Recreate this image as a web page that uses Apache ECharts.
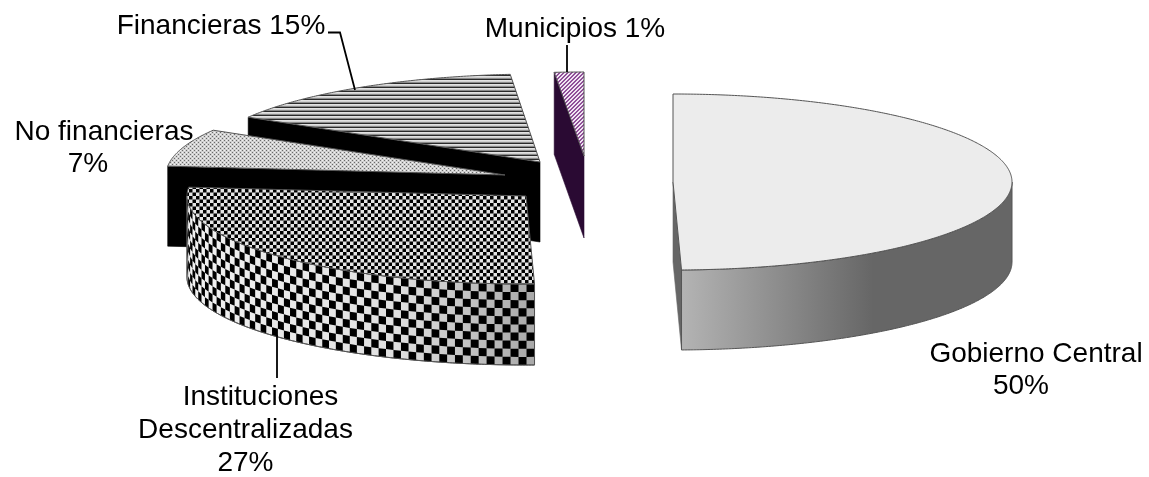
<!DOCTYPE html>
<html><head><meta charset="utf-8">
<style>html,body{margin:0;padding:0;background:#fff}#c{width:1149px;height:477px}</style>
<script src="https://cdn.jsdelivr.net/npm/echarts@6/dist/echarts.min.js"></script>
</head><body><div id="c"></div>
<script>
const categories = ['Gobierno Central', 'Instituciones Descentralizadas', 'No financieras', 'Financieras', 'Municipios'];
const shares = [49.6, 27.0, 6.9, 15.1, 1.4];
const nameLines = [['Gobierno Central'], ['Instituciones', 'Descentralizadas'], ['No financieras'], ['Financieras'], ['Municipios']];

// exploded slice geometry (pie centre of each slice, ellipse radii, thickness), and draw order
const RX = 339, RY = 88, DEPTH = 80;
const sliceLayout = [
  { cx: 673, cy: 182, ry: RY, depth: DEPTH, z: 5 },
  { cx: 526, cy: 196, ry: RY, depth: 81, z: 4 },
  { cx: 505, cy: 175, ry: RY, depth: DEPTH, z: 3 },
  { cx: 540, cy: 162, ry: RY, depth: DEPTH, z: 2 },
  { cx: 584, cy: 156, ry: 84, depth: 82, z: 1 }
];
// per-line centre x and baseline y; the percentage follows the name, on its own line or not
const labelLayout = [
  { nameAt: [[1036, 362]], pctAt: [1021, 394] },
  { nameAt: [[260.5, 405], [245.5, 438]], pctAt: [245.5, 471] },
  { nameAt: [[104, 140]], pctAt: [88, 172] },
  { nameAt: [[221, 34]], pctInline: true },
  { nameAt: [[575, 37]], pctInline: true }
];
const leaders = [
  null,
  [[277, 335], [277, 378]],
  null,
  [[328, 32.5], [340, 32.5], [355, 90]],
  [[567, 72], [567, 45]]
];

function tile(w, h, paint) {
  const c = document.createElement('canvas');
  c.width = w; c.height = h;
  paint(c.getContext('2d'));
  return { image: c, repeat: 'repeat' };
}
const fineChecker = tile(7, 7, g => {
  g.fillStyle = '#e4e4e4'; g.fillRect(0, 0, 7, 7);
  g.fillStyle = '#000'; g.fillRect(0, 0, 3.5, 3.5); g.fillRect(3.5, 3.5, 3.5, 3.5);
});
const dots = tile(4, 4, g => {
  g.fillStyle = '#d0d0d0'; g.fillRect(0, 0, 4, 4);
  g.fillStyle = '#6a6a6a'; g.fillRect(0, 0, 1, 1); g.fillRect(2, 2, 1, 1);
  g.fillStyle = '#f2f2f2'; g.fillRect(2, 0, 1, 1); g.fillRect(0, 2, 1, 1);
});
const stripes = tile(2, 4, g => {
  g.fillStyle = '#e2e2e2'; g.fillRect(0, 0, 2, 1);
  g.fillStyle = '#cfcfcf'; g.fillRect(0, 1, 2, 1);
  g.fillStyle = '#8a8a8a'; g.fillRect(0, 2, 2, 1);
  g.fillStyle = '#2a2a2a'; g.fillRect(0, 3, 2, 1);
});
const diagonal = tile(4, 4, g => {
  g.fillStyle = '#f0e4f2'; g.fillRect(0, 0, 4, 4);
  g.fillStyle = '#8f4f98';
  for (let i = 0; i < 4; i++) { g.fillRect((3 - i + 4) % 4, i, 2, 1); if ((3 - i + 1) >= 4) g.fillRect(0, i, 1, 1); }
});

const sliceStyle = [
  { top: '#ececec', cut: '#666666', wall: { type: 'linear', x: 0, y: 0, x2: 1, y2: 0, colorStops: [
      { offset: 0, color: '#b4b4b4' }, { offset: 0.58, color: '#666666' }, { offset: 1, color: '#666666' }] } },
  { top: fineChecker, cut: '#000', wall: { type: 'linear', x: 0, y: 0, x2: 1, y2: 0, colorStops: [
      { offset: 0, color: '#f2f2f2' }, { offset: 0.6, color: '#e0e0e0' }, { offset: 1, color: '#a8a8a8' }] }, checker: true },
  { top: dots, cut: '#000', wall: '#000' },
  { top: stripes, cut: '#000', wall: '#000' },
  { top: diagonal, cut: '#2a0a33', wall: '#2a0a33' }
];

const total = shares.reduce((a, b) => a + b, 0);
const rad = d => d * Math.PI / 180;

function renderItem(params, api) {
  const i = params.dataIndex;
  let startShare = 0;
  for (let k = 0; k < i; k++) startShare += shares[k];
  const a0 = startShare / total * 360;
  const a1 = (startShare + api.value(0)) / total * 360;
  const L = sliceLayout[i], S = sliceStyle[i];
  const pt = (deg, dz) => [L.cx + RX * Math.sin(rad(deg)), L.cy - L.ry * Math.cos(rad(deg)) + (dz || 0)];
  const arc = (from, to, dz) => {
    const out = [], n = Math.max(2, Math.ceil(Math.abs(to - from) * 2));
    for (let k = 0; k <= n; k++) out.push(pt(from + (to - from) * k / n, dz));
    return out;
  };
  const edge = { stroke: '#555', lineWidth: 1 };
  const kids = [];
  const poly = (points, fill, st) => kids.push({
    type: 'polygon', z2: L.z, shape: { points },
    style: Object.assign({ fill }, st || edge)
  });

  // visible cut faces
  const cut = deg => poly([[L.cx, L.cy], pt(deg), pt(deg, L.depth), [L.cx, L.cy + L.depth]], S.cut,
    { stroke: S.cut, lineWidth: 0.6 });
  if (Math.sin(rad(a0)) < -1e-6) cut(a0);
  if (Math.sin(rad(a1)) > 1e-6) cut(a1);

  // outer wall (front-facing part of the rim)
  const w0 = Math.max(a0, 90), w1 = Math.min(a1, 270);
  if (w1 > w0) {
    poly(arc(w0, w1, 0).concat(arc(w1, w0, L.depth)), S.wall);
    if (S.checker) {
      const rows = 10, baseW = 8, cellH = L.depth / rows;
      let d0 = w0, c = 0;
      while (d0 < w1) {
        const slant = Math.abs(Math.cos(rad(d0 - 180)));
        const step = Math.min(4, (baseW * (0.2 + 0.8 * slant)) / (RX * Math.max(slant, 0.02)) * 180 / Math.PI);
        const d1 = Math.min(w1, d0 + step);
        for (let r = 0; r < rows; r++) {
          if ((c + r) % 2) continue;
          const dzA = r * cellH, dzB = (r + 1) * cellH;
          kids.push({ type: 'polygon', z2: L.z, shape: { points: [pt(d0, dzA), pt(d1, dzA), pt(d1, dzB), pt(d0, dzB)] },
            style: { fill: '#000' } });
        }
        d0 = d1; c++;
      }
      poly(arc(w0, w1, 0).concat(arc(w1, w0, L.depth)), 'rgba(0,0,0,0)');
    }
  }

  // top face
  poly([[L.cx, L.cy]].concat(arc(a0, a1, 0)), S.top);

  // leader line and label
  if (leaders[i]) kids.push({ type: 'polyline', z2: 10, shape: { points: leaders[i] },
    style: { stroke: '#000', lineWidth: 1.8, fill: null } });
  const T = labelLayout[i], pct = Math.round(api.value(0)) + '%';
  const line = (text, at) => kids.push({ type: 'text', z2: 11, style: {
    text, x: at[0], y: at[1] - 7.5, fill: '#000', align: 'center', verticalAlign: 'middle',
    font: '28px "Liberation Sans", Arial, sans-serif' } });
  nameLines[i].forEach((t, k) => line(T.pctInline ? t + ' ' + pct : t, T.nameAt[k]));
  if (!T.pctInline) line(pct, T.pctAt);
  return { type: 'group', children: kids };
}

const chart = echarts.init(document.getElementById('c'), null, { renderer: 'canvas' });
chart.setOption({
  animation: false,
  backgroundColor: '#fff',
  series: [{
    type: 'custom',
    coordinateSystem: 'none',
    renderItem,
    data: shares.map((v, i) => ({ name: categories[i], value: [v] }))
  }]
});
</script></body></html>
